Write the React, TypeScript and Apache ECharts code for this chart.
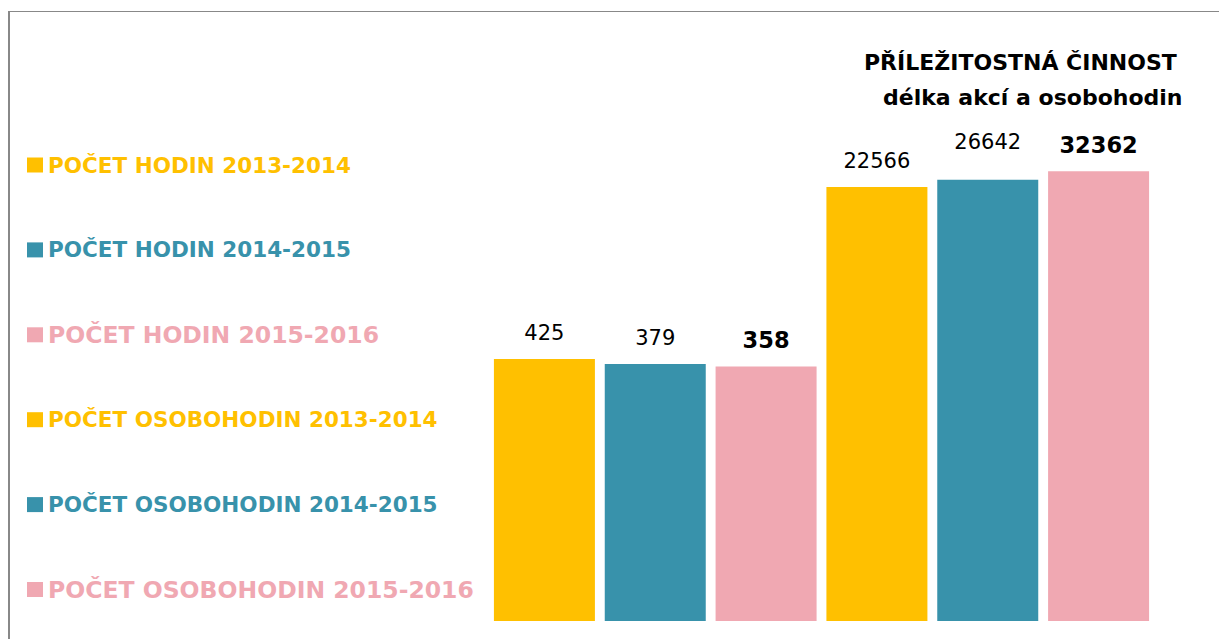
import React, { useEffect, useRef } from "react";
import * as echarts from "echarts";

const categories = [
  "POČET HODIN 2013-2014",
  "POČET HODIN 2014-2015",
  "POČET HODIN 2015-2016",
  "POČET OSOBOHODIN 2013-2014",
  "POČET OSOBOHODIN 2014-2015",
  "POČET OSOBOHODIN 2015-2016",
];
const values = [425, 379, 358, 22566, 26642, 32362];
const colors = ["#FFC000", "#3892AB", "#F0A8B2", "#FFC000", "#3892AB", "#F0A8B2"];
const emphasized = [false, false, true, false, false, true];
const titleLines = ["PŘÍLEŽITOSTNÁ ČINNOST", "délka akcí a osobohodin"];

const FONT = "'DejaVu Sans', sans-serif";

export default function App() {
  const ref = useRef<HTMLDivElement>(null);
  useEffect(() => {
    if (!ref.current) return;
    const chart = echarts.init(ref.current, null, { renderer: "svg" });
    const series = categories.map((name, i) => ({
      name,
      type: "bar",
      barWidth: 101,
      barGap: "-100%",
      itemStyle: { color: colors[i] },
      label: {
        show: true,
        position: "top",
        distance: i === 4 ? 27 : 15,
        color: "#000",
        fontFamily: FONT,
        fontWeight: emphasized[i] ? "bold" : "normal",
        fontSize: emphasized[i] ? 22.5 : 21,
      },
      data: categories.map((_, j) => (j === i ? values[i] : "-")),
    }));
    chart.setOption({
      animation: false,
      backgroundColor: "#fff",
      grid: { left: 489, right: 65, top: 122.5, bottom: 18 },
      xAxis: {
        type: "category",
        data: categories,
        show: false,
      },
      yAxis: {
        type: "log",
        min: 1,
        max: 100000,
        show: false,
      },
      legend: {
        orient: "vertical",
        left: 27,
        top: 153,
        padding: 0,
        itemWidth: 16,
        itemHeight: 15,
        itemGap: 60.9,
        icon: "rect",
        selectedMode: false,
        data: categories.map((name, i) => ({
          name,
          textStyle: {
            color: colors[i],
            fontFamily: FONT,
            fontWeight: "bold",
            fontSize: emphasized[i] ? 23.5 : 21.5,
            lineHeight: 24,
          },
        })),
      },
      graphic: [
        {
          type: "line",
          shape: { x1: 9, y1: 11, x2: 9, y2: 639 },
          style: { stroke: "#888", lineWidth: 2 },
        },
        {
          type: "line",
          shape: { x1: 8, y1: 11.5, x2: 1219, y2: 11.5 },
          style: { stroke: "#888", lineWidth: 1 },
        },
        {
          type: "text",
          left: 864,
          top: 51,
          style: {
            text: titleLines[0],
            fill: "#000",
            font: `bold 22px ${FONT}`,
          },
        },
        {
          type: "text",
          left: 883,
          top: 86,
          style: {
            text: titleLines[1],
            fill: "#000",
            font: `bold 22px ${FONT}`,
          },
        },
      ],
      series,
    });
    return () => chart.dispose();
  }, []);
  return (
    <div
      ref={ref}
      style={{ position: "absolute", left: 0, top: 0, width: 1219, height: 639 }}
    />
  );
}
